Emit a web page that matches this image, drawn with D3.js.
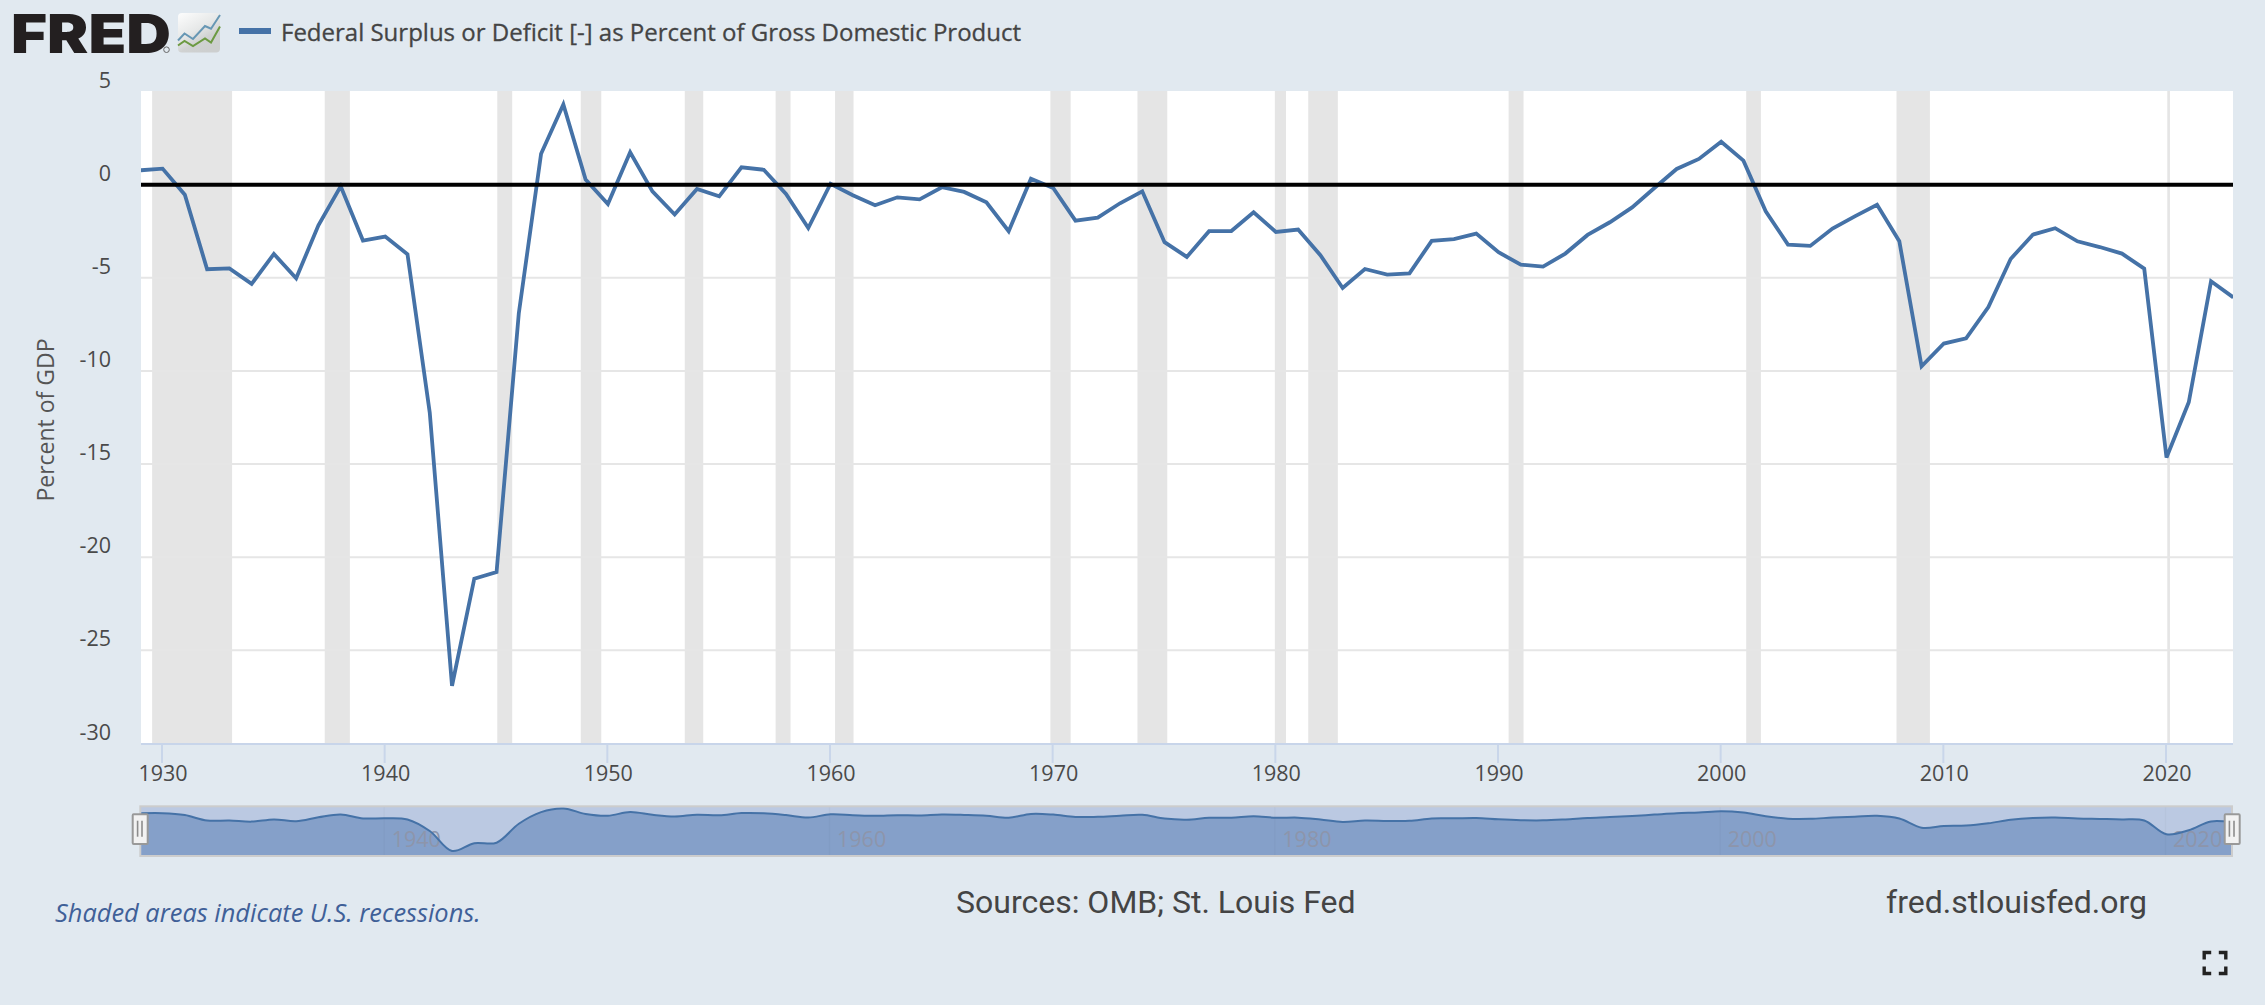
<!DOCTYPE html>
<html>
<head>
<meta charset="utf-8">
<script src="https://cdn.jsdelivr.net/npm/d3@7"></script>
<style>
html,body{margin:0;padding:0;background:#e1e9f0;overflow:hidden}
svg{display:block}
text{font-family:"Open Sans",sans-serif}
</style>
</head>
<body>
<svg id="chart" width="2265" height="1005"></svg>
<script>
const seriesName = "Federal Surplus or Deficit [-] as Percent of Gross Domestic Product";
const years = d3.range(1929, 2024);
const deficit = [
  0.77, 0.86, -0.54, -4.54, -4.50, -5.33, -3.72, -5.03, -2.18, -0.09,
  -3.00, -2.79, -3.74, -12.24, -26.90, -21.15, -20.80, -6.90, 1.66, 4.30,
  0.27, -1.04, 1.74, -0.36, -1.60, -0.23, -0.63, 0.93, 0.80, -0.50,
  -2.33, 0.05, -0.57, -1.11, -0.68, -0.79, -0.14, -0.39, -0.95, -2.50,
  0.32, -0.18, -1.93, -1.77, -1.00, -0.36, -3.09, -3.88, -2.50, -2.49,
  -1.48, -2.54, -2.41, -3.79, -5.55, -4.53, -4.83, -4.76, -3.02, -2.92,
  -2.63, -3.63, -4.29, -4.40, -3.70, -2.70, -2.02, -1.22, -0.18, 0.84,
  1.38, 2.30, 1.29, -1.43, -3.22, -3.29, -2.36, -1.70, -1.08, -3.04,
  -9.75, -8.53, -8.25, -6.57, -3.99, -2.68, -2.34, -3.04, -3.35, -3.70,
  -4.51, -14.65, -11.68, -5.19, -6.05
];
const recessionStarts = [1929.58,1937.33,1945.08,1948.83,1953.50,1957.58,1960.25,1969.92,1973.83,1980.00,1981.50,1990.50,2001.17,2007.92,2020.08];
const recessionEnds   = [1933.17,1938.46,1945.75,1949.75,1954.33,1958.25,1961.08,1970.83,1975.17,1980.50,1982.83,1991.17,2001.83,2009.42,2020.20];
const yTicks = [5,0,-5,-10,-15,-20,-25,-30];
const xTicks = d3.range(1930, 2021, 10);
const navTicks = [1940,1960,1980,2000,2020];
const data = years.map((y,i)=>({year:y,value:deficit[i]}));

const svg = d3.select("#chart");
const L = 141, R = 2233, T = 91, B = 743.5;
const xData = d3.scaleLinear().domain([1929,2023]).range([140.3,2233.3]);
const xAxis = d3.scaleLinear().domain([1930,2020]).range([161.5,2165.5]);
const y = d3.scaleLinear().domain([-30,5]).range([B,91.5]);
const navY = d3.scaleLinear().domain([-26.9,4.3]).range([851,808.5]);

const defs = svg.append("defs");
defs.append("clipPath").attr("id","plotClip").append("rect")
  .attr("x",L).attr("y",T).attr("width",R-L).attr("height",B-T);
defs.append("clipPath").attr("id","navClip").append("rect")
  .attr("x",141.3).attr("y",807.3).attr("width",2089.7).attr("height",47.7);
const grad = defs.append("linearGradient").attr("id","iconGrad").attr("x1",0).attr("x2",0.6).attr("y1",0).attr("y2",1);
grad.append("stop").attr("offset","0").attr("stop-color","#fdfdfd");
grad.append("stop").attr("offset","0.5").attr("stop-color","#e6e8e8");
grad.append("stop").attr("offset","0.75").attr("stop-color","#d0d2d2");
grad.append("stop").attr("offset","1").attr("stop-color","#cdcfcf");

// plot
svg.append("rect").attr("x",L).attr("y",T).attr("width",R-L).attr("height",B-T).attr("fill","#fff");

const plot = svg.append("g").attr("clip-path","url(#plotClip)");
plot.selectAll("rect.rec").data(recessionStarts).join("rect").attr("class","rec")
  .attr("x",d=>xAxis(d)).attr("y",T)
  .attr("width",(d,i)=>xAxis(recessionEnds[i])-xAxis(d)).attr("height",B-T)
  .attr("fill","#e5e5e5");

plot.selectAll("line.grid").data(yTicks.filter(d=>d<0 && d>-30)).join("line").attr("class","grid")
  .attr("x1",L).attr("x2",R).attr("y1",d=>y(d)).attr("y2",d=>y(d))
  .attr("stroke","#e6e6e6").attr("stroke-width",2);

plot.append("path").datum(data)
  .attr("d",d3.line().x(d=>xData(d.year)).y(d=>y(d.value)))
  .attr("fill","none").attr("stroke","#4572a7").attr("stroke-width",3.8)
  .attr("stroke-linejoin","miter").attr("stroke-miterlimit",3.5);

plot.append("line").attr("x1",L).attr("x2",R).attr("y1",y(0)).attr("y2",y(0))
  .attr("stroke","#000").attr("stroke-width",4);

// y axis labels
const yAxisG = svg.append("g").attr("transform",`translate(111,0)`)
  .call(d3.axisLeft(y).tickValues(yTicks).tickSize(0).tickPadding(0).tickFormat(d=>String(d)));
yAxisG.select(".domain").remove();
yAxisG.selectAll("text").attr("fill","#4a4a4a").attr("font-size",21.5).attr("dy",null)
  .attr("y",-4.5).attr("x",0)
  .style("font-family",'"Open Sans",sans-serif');

svg.append("text").attr("transform","translate(54,420) rotate(-90)").attr("text-anchor","middle")
  .attr("fill","#555").attr("font-size",23).text("Percent of GDP");

// x axis
const xG = svg.append("g").attr("transform",`translate(0,${B})`)
  .call(d3.axisBottom(xAxis).tickValues(xTicks).tickSize(19.5).tickPadding(3).tickFormat(d=>String(d)));
xG.select(".domain").remove();
xG.selectAll("line").attr("stroke","#c9d6ea").attr("stroke-width",2);
xG.selectAll("text").attr("fill","#4a4a4a").attr("font-size",21.5).attr("dx",1)
  .style("font-family",'"Open Sans",sans-serif');
svg.append("line").attr("x1",L).attr("x2",R).attr("y1",B+0.4).attr("y2",B+0.4).attr("stroke","#c8d5ea").attr("stroke-width",2);

// navigator
svg.append("rect").attr("x",140.3).attr("y",806.3).attr("width",2091.7).attr("height",49.7)
  .attr("fill","#bbc9e2").attr("stroke","#cccccc").attr("stroke-width",2);
const nav = svg.append("g").attr("clip-path","url(#navClip)");
nav.append("path").datum(data)
  .attr("d",d3.area().curve(d3.curveCatmullRom.alpha(0.5)).x(d=>xData(d.year)).y0(855).y1(d=>navY(d.value)))
  .attr("fill","#85a0c9");
nav.selectAll("line").data(navTicks).join("line")
  .attr("x1",d=>xAxis(d)).attr("x2",d=>xAxis(d)).attr("y1",807).attr("y2",855)
  .attr("stroke","#000").attr("stroke-opacity",0.025).attr("stroke-width",1.5);
nav.selectAll("text").data(navTicks).join("text")
  .attr("x",d=>xAxis(d)+7.5).attr("y",846.7).attr("font-size",21.5)
  .attr("fill","#8d95ab").text(d=>d);
nav.append("path").datum(data)
  .attr("d",d3.line().curve(d3.curveCatmullRom.alpha(0.5)).x(d=>xData(d.year)).y(d=>navY(d.value)))
  .attr("fill","none").attr("stroke","#4572a7").attr("stroke-width",2);
[[132.7,137.6,142],[2224.7,2229.4,2234]].forEach(([hx,g1,g2])=>{
  svg.append("rect").attr("x",hx).attr("y",814.3).attr("width",15).attr("height",29.7).attr("rx",1)
    .attr("fill","#f2f2f2").attr("stroke","#999").attr("stroke-width",2);
  [g1,g2].forEach(g=>svg.append("line").attr("x1",g).attr("x2",g).attr("y1",820.7).attr("y2",836.7)
    .attr("stroke","#8c8c8c").attr("stroke-width",1.6));
});

// header: legend
svg.append("rect").attr("x",239).attr("y",28).attr("width",32).attr("height",6).attr("fill","#4572a7");
svg.append("text").attr("x",281).attr("y",41).attr("font-size",24).attr("font-weight",400)
  .attr("fill","#444").attr("stroke","#444").attr("stroke-width",0.3).text(seriesName);

// logo
const logo = svg.append("text").attr("x",0).attr("y",0).attr("font-size",54).attr("font-weight",900)
  .style("font-family","Inter,sans-serif").attr("fill","#231f20").text("FRED");
const logoW = logo.node().getBBox().width;
logo.attr("transform",`translate(11,52.5) scale(${160/logoW},1)`);
svg.append("circle").attr("cx",166.5).attr("cy",49.7).attr("r",2.8).attr("fill","none").attr("stroke","#666").attr("stroke-width",1);
svg.append("rect").attr("x",178).attr("y",13).attr("width",42).attr("height",39.5).attr("rx",4).attr("fill","url(#iconGrad)");
const iconX = [178, 184.5, 193, 205, 211, 220];
const iconBlue = [40.5, 33.5, 39, 26, 28.7, 15];
const iconGreen = [45.5, 41, 46, 38.5, 42.5, 26.5];
[[iconBlue,"#6797b4"],[iconGreen,"#6c9a42"]].forEach(([vals,c])=>{
  svg.append("path").attr("d",d3.line().x((d,i)=>iconX[i]).y(d=>d)(vals))
    .attr("fill","none").attr("stroke",c).attr("stroke-width",2);
});

// footer
svg.append("text").attr("x",55).attr("y",922).attr("font-size",25.4).attr("font-style","italic")
  .attr("fill","#3f6098").text("Shaded areas indicate U.S. recessions.");
svg.append("text").attr("x",956).attr("y",913).attr("font-size",32).attr("fill","#444")
  .style("font-family","Roboto,sans-serif").text("Sources: OMB; St. Louis Fed");
svg.append("text").attr("x",1886).attr("y",913).attr("font-size",32).attr("fill","#444")
  .style("font-family","Roboto,sans-serif").text("fred.stlouisfed.org");

// fullscreen icon
const fsX0=2204.2, fsX1=2225.8, fsY0=952.5, fsY1=973.5, len=7;
svg.append("path").attr("d",[
  `M${fsX0},${fsY0+len}V${fsY0}H${fsX0+len}`,
  `M${fsX1-len},${fsY0}H${fsX1}V${fsY0+len}`,
  `M${fsX0},${fsY1-len}V${fsY1}H${fsX0+len}`,
  `M${fsX1-len},${fsY1}H${fsX1}V${fsY1-len}`
].join("")).attr("fill","none").attr("stroke","#222").attr("stroke-width",3.4);
</script>
</body>
</html>
